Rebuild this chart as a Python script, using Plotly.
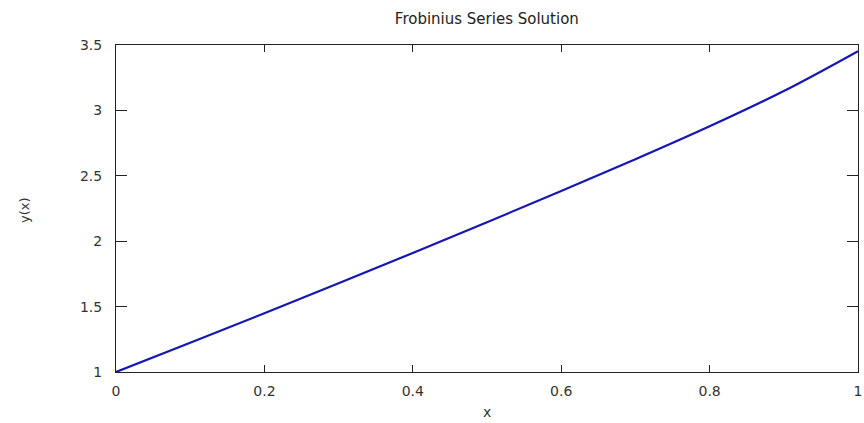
import plotly.graph_objects as go

# Series solution y(x) sampled on [0, 1]
x_vals = [0.0, 0.1, 0.2, 0.3, 0.4, 0.5, 0.6, 0.7, 0.8, 0.9, 1.0]
y_vals = [1.0, 1.223, 1.449, 1.678, 1.910, 2.145, 2.383, 2.626, 2.878, 3.148, 3.453]

x_ticks = [0, 0.2, 0.4, 0.6, 0.8, 1]
x_tick_text = ["0", "0.2", "0.4", "0.6", "0.8", "1"]
y_ticks = [1, 1.5, 2, 2.5, 3, 3.5]
y_tick_text = ["1", "1.5", "2", "2.5", "3", "3.5"]

FONT = "DejaVu Sans"
W, H = 864, 423
ML, MR, MT, MB = 116, 6, 45, 51
PW, PH = W - ML - MR, H - MT - MB

fig = go.Figure()
fig.add_trace(go.Scatter(
    x=x_vals, y=y_vals, mode="lines",
    line=dict(color="#1616b4", width=2.2, shape="spline", smoothing=1.0),
    showlegend=False,
))

axis_common = dict(
    showgrid=False, zeroline=False, automargin=False,
    showline=True, linecolor="#222222", linewidth=1, mirror="ticks",
    ticks="inside", tickcolor="#222222", tickwidth=1,
    tickfont=dict(family=FONT, size=14, color="#333333"),
)

fig.update_layout(
    width=W, height=H,
    margin=dict(l=ML, r=MR, t=MT, b=MB),
    paper_bgcolor="white", plot_bgcolor="white",
    title=dict(text="Frobinius Series Solution", x=0.5635, xanchor="center",
               y=0.955, yanchor="middle",
               font=dict(family=FONT, size=15, color="#222222")),
    xaxis=dict(range=[0, 1], tickvals=x_ticks, ticktext=x_tick_text, ticklen=7,
               ticklabelstandoff=6, **axis_common),
    yaxis=dict(range=[1, 3.5], tickvals=y_ticks, ticktext=y_tick_text, ticklen=11,
               ticklabelstandoff=10, **axis_common),
    annotations=[
        # x-axis title
        dict(text="x", xref="paper", yref="paper",
             x=0.5, y=(0 - (412 - (MT + PH))) / PH,
             xanchor="center", yanchor="middle", showarrow=False,
             font=dict(family=FONT, size=14, color="#333333")),
        # y-axis title
        dict(text="y(x)", xref="paper", yref="paper",
             x=(24 - ML) / PW, y=(MT + PH - 210) / PH, textangle=-90,
             xanchor="center", yanchor="middle", showarrow=False,
             font=dict(family=FONT, size=13, color="#333333")),
    ],
)

fig.write_html("out.html")
